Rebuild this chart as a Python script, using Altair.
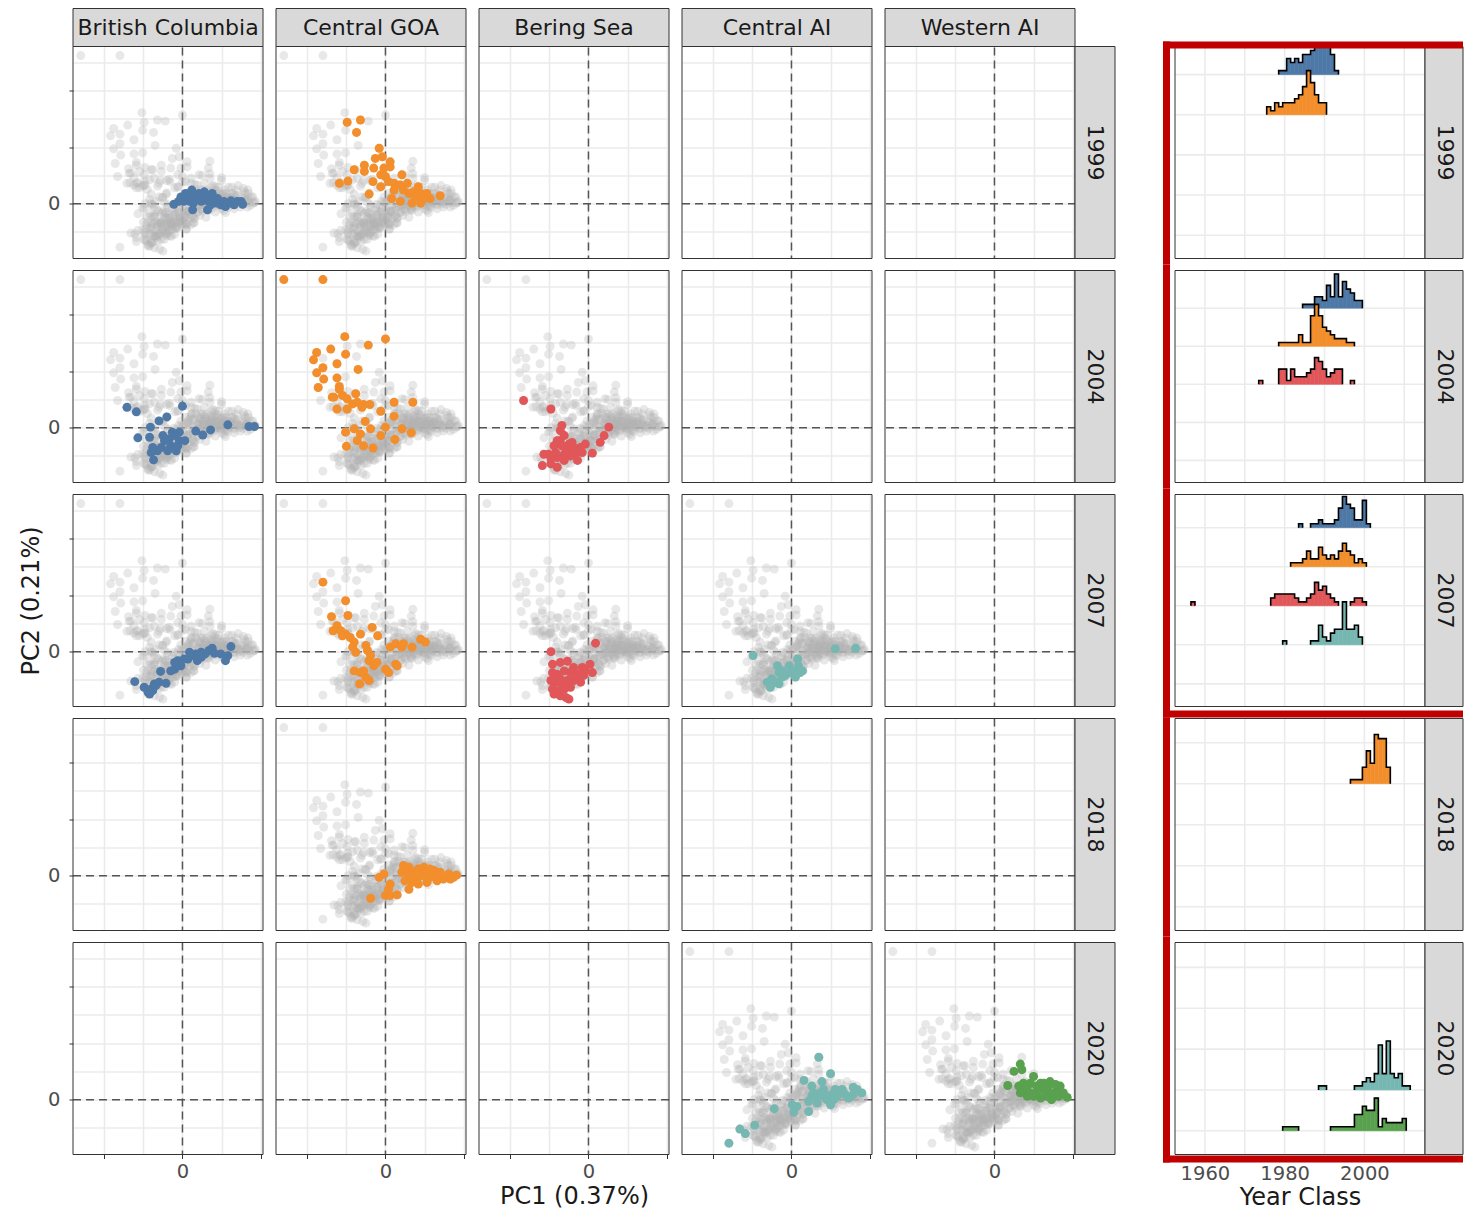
import altair as alt
import pandas as pd

# ---------------------------------------------------------------- categories
REGIONS = ["British Columbia", "Central GOA", "Bering Sea", "Central AI", "Western AI"]
REGION_COLORS = ["#4E79A7", "#F28E2B", "#E15759", "#76B7B2", "#59A14F"]
YEARS = [1999, 2004, 2007, 2018, 2020]

# ------------------------------------------- PCA scores (PC1, PC2) per fish
BC_1999 = [(-0.11, -0.01), (-0.02, 0.12), (0.04, 0.18), (0.12, 0.24), (0.13, -0.11), (0.19, 0.09),
           (0.24, 0.04), (0.28, 0.21), (0.32, -0.11), (0.38, 0.18), (0.41, 0.04), (0.45, 0.09),
           (0.49, -0.02), (0.55, -0.05), (0.60, 0.01), (0.66, -0.02), (0.70, 0.04), (0.77, -0.01),
           (0.09, 0.04), (0.15, 0.15), (0.21, 0.18), (0.34, 0.09), (0.43, 0.01), (0.53, 0.04),
           (0.02, 0.04), (0.36, -0.02), (0.07, 0.12), (0.26, 0.12), (0.30, 0.06), (0.47, 0.04),
           (0.62, 0.05), (0.75, 0.04), (0.14, 0.01), (-0.05, 0.04)]
CGOA_1999 = [(-0.49, 1.44), (-0.32, 1.48), (-0.37, 1.26), (-0.08, 0.98), (-0.13, 0.80), (-0.04, 0.83),
             (0.06, 0.74), (0.06, 0.65), (-0.27, 0.68), (-0.27, 0.57), (-0.40, 0.60), (-0.48, 0.40),
             (-0.59, 0.36), (-0.16, 0.39), (-0.21, 0.17), (-0.06, 0.51), (0.00, 0.48), (0.04, 0.39),
             (0.11, 0.36), (0.21, 0.51), (0.19, 0.33), (0.28, 0.36), (0.30, 0.18), (0.36, 0.21),
             (0.42, 0.30), (0.45, 0.18), (0.53, 0.18), (0.57, 0.09), (0.70, 0.14), (0.08, 0.09),
             (0.19, 0.04), (0.34, 0.01), (0.45, 0.01), (-0.06, 0.30), (0.11, 0.24), (0.23, 0.24),
             (-0.15, 0.63), (-0.02, 0.63), (0.38, 0.12), (0.49, 0.09)]
BC_2004 = [(-0.71, 0.36), (-0.59, 0.28), (0.00, 0.38), (-0.20, 0.19), (-0.30, 0.12), (-0.41, 0.01),
           (-0.57, -0.18), (-0.42, -0.17), (-0.38, -0.35), (-0.40, -0.44), (-0.37, -0.57), (-0.27, -0.35),
           (-0.23, -0.23), (-0.17, -0.20), (-0.15, -0.32), (-0.10, -0.14), (-0.04, -0.08), (-0.04, -0.23),
           (-0.08, -0.41), (0.03, -0.23), (-0.06, -0.32), (-0.19, -0.41), (-0.32, -0.41), (0.17, -0.06),
           (0.26, -0.13), (0.36, -0.04), (0.58, 0.05), (0.85, 0.02), (0.92, 0.02), (-0.13, -0.08),
           (-0.25, -0.14)]
CGOA_2004 = [(-1.30, 2.62), (-0.80, 2.62), (-0.52, 1.61), (0.00, 1.57), (-0.22, 1.46), (-0.70, 1.39),
             (-0.88, 1.33), (-0.92, 1.20), (-0.51, 1.30), (-0.62, 1.13), (-0.35, 1.03), (-0.80, 1.06),
             (-0.88, 0.97), (-0.79, 0.86), (-0.86, 0.71), (-0.62, 0.88), (-0.59, 0.73), (-0.66, 0.54),
             (-0.55, 0.57), (-0.49, 0.51), (-0.38, 0.60), (-0.36, 0.45), (-0.28, 0.41), (-0.20, 0.41),
             (-0.62, 0.33), (-0.49, 0.33), (-0.30, 0.36), (-0.06, 0.29), (0.11, 0.45), (0.35, 0.45),
             (0.11, 0.20), (-0.26, 0.11), (0.00, 0.01), (0.21, -0.02), (0.33, -0.09), (-0.51, -0.08),
             (-0.40, -0.02), (-0.32, -0.11), (-0.06, -0.14), (0.12, -0.21), (-0.50, -0.33), (-0.28, -0.32),
             (-0.16, -0.36), (-0.59, 0.68), (-0.68, 0.54), (-0.42, 0.42), (-0.19, -0.02), (-0.36, -0.23)]
BS_2004 = [(-0.83, 0.48), (-0.48, 0.33), (-0.34, 0.04), (-0.36, -0.05), (-0.31, -0.14), (-0.40, -0.23),
           (-0.44, -0.32), (-0.34, -0.32), (-0.25, -0.29), (-0.19, -0.35), (-0.10, -0.35), (-0.04, -0.29),
           (0.05, -0.45), (-0.14, -0.58), (-0.23, -0.50), (-0.31, -0.47), (-0.40, -0.53), (-0.51, -0.47),
           (-0.57, -0.47), (-0.59, -0.67), (-0.48, -0.64), (-0.40, -0.70), (-0.31, -0.58), (0.15, -0.26),
           (0.20, -0.14), (0.26, 0.01), (-0.08, -0.44), (-0.42, -0.44), (-0.21, -0.26), (-0.36, -0.23),
           (-0.27, -0.41), (-0.48, -0.55), (-0.17, -0.47)]
BC_2007 = [(-0.61, -0.53), (-0.49, -0.63), (-0.44, -0.72), (-0.40, -0.66), (-0.42, -0.75), (-0.36, -0.57),
           (-0.30, -0.54), (-0.28, -0.35), (-0.21, -0.56), (-0.15, -0.34), (-0.10, -0.31), (-0.06, -0.16),
           (-0.02, -0.25), (0.02, -0.13), (0.09, -0.01), (0.13, -0.07), (0.17, -0.04), (0.24, -0.01),
           (0.29, -0.04), (0.34, 0.02), (0.38, 0.06), (0.41, -0.03), (0.49, -0.04), (0.55, -0.16),
           (0.58, -0.07), (0.62, 0.09), (0.07, -0.13), (0.19, -0.16), (-0.38, -0.69), (-0.34, -0.60),
           (-0.10, -0.19), (0.24, -0.10)]
CGOA_2007 = [(-0.80, 1.23), (-0.51, 0.90), (-0.48, 0.64), (-0.69, 0.62), (-0.62, 0.46), (-0.67, 0.37),
             (-0.57, 0.37), (-0.51, 0.31), (-0.45, 0.25), (-0.40, 0.17), (-0.32, 0.31), (-0.38, -0.01),
             (-0.25, 0.11), (-0.23, 0.02), (-0.19, -0.07), (-0.17, 0.43), (-0.10, 0.28), (-0.21, -0.16),
             (-0.15, -0.25), (-0.11, -0.19), (-0.40, -0.34), (-0.32, -0.37), (-0.25, -0.45), (-0.33, -0.57),
             (-0.21, -0.51), (0.00, -0.31), (0.04, -0.37), (0.13, -0.22), (0.15, -0.25), (0.06, 0.08),
             (0.13, 0.14), (0.21, 0.08), (0.23, 0.14), (0.34, 0.08), (0.45, 0.22), (0.51, 0.17),
             (-0.55, 0.28), (-0.42, 0.08), (-0.28, -0.34)]
BS_2007 = [(-0.48, 0.00), (0.09, 0.15), (-0.46, -0.22), (-0.36, -0.19), (-0.27, -0.17), (-0.19, -0.28),
           (-0.08, -0.28), (0.02, -0.22), (0.05, -0.37), (-0.46, -0.37), (-0.40, -0.40), (-0.31, -0.34),
           (-0.23, -0.37), (-0.14, -0.40), (-0.06, -0.42), (-0.48, -0.51), (-0.42, -0.54), (-0.36, -0.48),
           (-0.27, -0.51), (-0.19, -0.51), (-0.10, -0.54), (-0.46, -0.66), (-0.40, -0.69), (-0.31, -0.66),
           (-0.23, -0.63), (-0.44, -0.75), (-0.36, -0.78), (-0.29, -0.81), (-0.25, -0.84), (-0.34, -0.57),
           (-0.14, -0.45), (-0.04, -0.34)]
CAI_2007 = [(-0.49, -0.07), (0.56, 0.05), (0.82, 0.06), (-0.31, -0.54), (-0.27, -0.63), (-0.25, -0.48),
            (-0.18, -0.25), (-0.16, -0.37), (-0.20, -0.54), (-0.12, -0.45), (-0.08, -0.42), (-0.03, -0.25),
            (-0.01, -0.37), (0.03, -0.34), (0.05, -0.45), (0.08, -0.13), (0.09, -0.25), (0.11, -0.37),
            (0.14, -0.34), (-0.16, -0.57), (-0.12, -0.34)]
CGOA_2018 = [(-0.19, -0.40), (-0.08, -0.03), (-0.02, 0.03), (0.00, -0.35), (0.06, -0.35), (0.15, -0.34),
             (0.06, -0.15), (0.04, -0.24), (0.23, 0.18), (0.30, 0.15), (0.32, 0.00), (0.25, -0.09),
             (0.30, -0.24), (0.36, 0.06), (0.42, 0.12), (0.49, 0.15), (0.40, -0.06), (0.47, 0.00),
             (0.53, 0.06), (0.57, -0.03), (0.62, 0.09), (0.66, 0.00), (0.70, 0.06), (0.74, -0.06),
             (0.81, 0.03), (0.87, -0.03), (0.91, 0.01), (0.34, -0.12), (0.53, -0.12), (0.66, -0.09),
             (0.42, -0.15), (0.21, 0.06), (0.28, 0.06), (0.57, 0.12), (0.83, -0.06)]
CAI_2020 = [(-0.80, -0.77), (-0.66, -0.52), (-0.59, -0.60), (-0.47, -0.45), (-0.22, -0.16), (0.01, -0.09),
            (0.03, -0.22), (0.07, -0.12), (0.22, -0.21), (0.22, -0.03), (0.26, 0.24), (0.35, 0.75),
            (0.16, 0.34), (0.28, 0.12), (0.35, 0.06), (0.39, 0.32), (0.41, 0.18), (0.45, 0.00),
            (0.50, 0.46), (0.50, -0.09), (0.52, 0.09), (0.56, 0.18), (0.58, 0.06), (0.62, 0.12),
            (0.69, 0.09), (0.73, 0.03), (0.79, 0.22), (0.79, 0.09), (0.90, 0.12), (0.33, -0.06),
            (0.37, 0.12), (0.54, 0.00), (0.65, 0.18), (0.84, 0.18), (0.26, 0.06), (0.43, 0.09)]
WAI_2020 = [(0.17, 0.25), (0.25, 0.50), (0.33, 0.63), (0.35, 0.53), (0.50, 0.41), (0.33, 0.12),
            (0.37, 0.29), (0.42, 0.24), (0.46, 0.12), (0.50, 0.06), (0.54, 0.24), (0.59, 0.29),
            (0.63, 0.18), (0.67, 0.06), (0.69, 0.24), (0.71, 0.32), (0.76, 0.12), (0.80, 0.18),
            (0.82, 0.06), (0.84, 0.24), (0.93, 0.04), (0.42, 0.06), (0.59, 0.03), (0.73, 0.00),
            (0.46, 0.29), (0.63, 0.29), (0.37, 0.15), (0.54, 0.12), (0.67, 0.15), (0.84, 0.09),
            (0.78, 0.27), (0.31, 0.24), (0.88, 0.12)]

SCORES = {
    ("British Columbia", 1999): BC_1999, ("Central GOA", 1999): CGOA_1999,
    ("British Columbia", 2004): BC_2004, ("Central GOA", 2004): CGOA_2004, ("Bering Sea", 2004): BS_2004,
    ("British Columbia", 2007): BC_2007, ("Central GOA", 2007): CGOA_2007, ("Bering Sea", 2007): BS_2007,
    ("Central AI", 2007): CAI_2007, ("Central GOA", 2018): CGOA_2018,
    ("Central AI", 2020): CAI_2020, ("Western AI", 2020): WAI_2020,
}

# ------------------------- year-class counts (first year class, then counts)
YC_1999_BC = [1, 1, 4, 3, 4, 3, 5, 5, 6, 7, 9, 10, 9, 5, 1]
YC_1999_CGOA = [2, 1, 3, 2, 3, 3, 3, 4, 5, 7, 11, 8, 5, 3, 3]
YC_2004_BC = [1, 1, 1, 3, 3, 2, 6, 3, 9, 3, 7, 5, 4, 2, 2]
YC_2004_CGOA = [1, 1, 1, 1, 1, 3, 1, 1, 8, 11, 8, 5, 4, 3, 2, 2, 2, 1, 1]
YC_2004_BS = [1, 0, 0, 0, 0, 4, 4, 1, 4, 2, 2, 2, 3, 4, 7, 6, 4, 2, 3, 4, 4, 0, 0, 1]
YC_2007_BC = [1, 0, 0, 1, 1, 2, 1, 1, 1, 2, 5, 8, 6, 5, 2, 2, 7, 1]
YC_2007_CGOA = [1, 1, 1, 2, 4, 2, 2, 5, 3, 2, 3, 2, 4, 6, 4, 3, 1, 2, 1]
YC_2007_BS = ([1] + [0] * 19 + [2, 3, 3, 3, 3, 3, 2, 1, 1, 2, 3, 6, 4, 5, 3, 2, 1]
              + [0, 0, 0] + [1, 2, 2, 1])
YC_2007_CAI = [1, 0, 0, 0, 0, 0, 0, 1, 1, 5, 2, 1, 3, 4, 4, 11, 4, 4, 5, 2]
YC_2018_CGOA = [1, 1, 1, 4, 8, 5, 12, 11, 11, 4]
YC_2020_CAI = [1, 1, 0, 0, 0, 0, 0, 0, 0, 1, 1, 2, 3, 2, 4, 11, 4, 12, 4, 3, 4, 1, 1]
YC_2020_WAI = ([1, 1, 1, 1] + [0] * 8
               + [1, 1, 1, 1, 1, 1, 4, 4, 6, 5, 5, 8, 1, 3, 2, 2, 2, 2, 3])

YEAR_CLASS = [
    (1999, "British Columbia", 1979, YC_1999_BC),
    (1999, "Central GOA", 1976, YC_1999_CGOA),
    (2004, "British Columbia", 1985, YC_2004_BC),
    (2004, "Central GOA", 1979, YC_2004_CGOA),
    (2004, "Bering Sea", 1974, YC_2004_BS),
    (2007, "British Columbia", 1984, YC_2007_BC),
    (2007, "Central GOA", 1982, YC_2007_CGOA),
    (2007, "Bering Sea", 1957, YC_2007_BS),
    (2007, "Central AI", 1980, YC_2007_CAI),
    (2018, "Central GOA", 1997, YC_2018_CGOA),
    (2020, "Central AI", 1989, YC_2020_CAI),
    (2020, "Western AI", 1980, YC_2020_WAI),
]

# ------------------------------------------------------------ layout / style
PANEL_W, PANEL_H = 190, 212
GAP_X, GAP_Y = 13, 12
STRIP_H, STRIP_W = 38, 40
HIST_W, HIST_LEFT, HIST_STRIP = 250, 47, 38
GRID = "#EBEBEB"
GRID_W = 1.6
FRAME = "#333333"
STRIP_FILL = "#D9D9D9"
TEXT = "#1A1A1A"
TICK_TEXT = "#4D4D4D"
RED = "#C00000"
FONT = "DejaVu Sans"
STRIP_FONT = 22
TICK_FONT = 19.5
TITLE_FONT = 24

X_DOMAIN = [-1.40, 1.03]
Y_DOMAIN = [-0.97, 2.78]
X_GRID = [-1.0, -0.5, 0.0, 0.5, 1.0]
Y_GRID = [-0.5, 0.0, 0.5, 1.0, 1.5, 2.0, 2.5]
X_PX = PANEL_W / (X_DOMAIN[1] - X_DOMAIN[0])
Y_PX = PANEL_H / (Y_DOMAIN[1] - Y_DOMAIN[0])

# ridge rows: expanded y-limits of each row (regions sit at 4..0), ridge height per fish
RIDGE_TOP = [4.70, 4.99, 4.85, 4.59, 4.61]
RIDGE_BOTTOM = -0.58
RIDGE_SCALE = 0.1
YC_LIMITS = [1952.5, 2015.2]
YC_GRID = [1960, 1970, 1980, 1990, 2000, 2010]
YC_PX = HIST_W / (YC_LIMITS[1] - YC_LIMITS[0])

# highlight boxes round the ridge rows: (top, bottom) of the left bar and any
# horizontal bars, in px measured down from the top edge of each row's panel
RED_LEFT = [(-5, 218), (-6, 218), (-6, 223), (-1, 218), (-6, 220)]
RED_BARS = [[(-5, 2)], [], [(216, 223)], [], [(213, 220)]]

# ------------------------------------------------------------------- tables
PTS = pd.DataFrame(
    [dict(region=r, year=y, pc1=a, pc2=b) for (r, y), pts in SCORES.items() for a, b in pts]
)
ZERO = pd.DataFrame({"zero": [0.0]})
MINOR = "datum.value % 1 != 0"


def x_axis(show, title=None):
    base = dict(values=X_GRID, grid=True, gridColor=GRID, gridWidth=GRID_W, domain=False)
    if not show:
        return alt.Axis(**base, labels=False, ticks=False, title=None, minExtent=0, maxExtent=0)
    return alt.Axis(
        **base, ticks=True, tickSize=4, tickWidth=1,
        tickColor={"condition": {"test": MINOR, "value": "transparent"}, "value": FRAME},
        labelExpr="datum.value == 0 ? '0' : ''", labelFontSize=TICK_FONT, labelColor=TICK_TEXT,
        labelPadding=3.5, labelFlush=False, labelOverlap=False,
        title=title, titleFontSize=TITLE_FONT, titleFontWeight="normal", titleColor=TEXT,
        titlePadding=4,
    )


def y_axis(show, title=" "):
    base = dict(values=Y_GRID, grid=True, gridColor=GRID, gridWidth=GRID_W, domain=False)
    if not show:
        return alt.Axis(**base, labels=False, ticks=False, title=None, minExtent=0, maxExtent=0)
    return alt.Axis(
        **base, ticks=True, tickSize=4, tickWidth=1,
        tickColor={"condition": {"test": MINOR, "value": "transparent"}, "value": FRAME},
        labelExpr="datum.value == 0 ? '0' : ''", labelFontSize=TICK_FONT, labelColor=TICK_TEXT,
        labelPadding=9, labelFlush=False, labelOverlap=False,
        title=title, titleFontSize=TITLE_FONT, titleFontWeight="normal", titleColor=TEXT,
        titlePadding=4, minExtent=26, maxExtent=26,
    )


def panel(ri, ci):
    year, region = YEARS[ri], REGIONS[ci]
    top_row, last_col = ri == 0, ci == len(REGIONS) - 1
    x_hi = X_DOMAIN[1] + (STRIP_W / X_PX if last_col else 0)
    y_hi = Y_DOMAIN[1] + (STRIP_H / Y_PX if top_row else 0)
    xs = alt.Scale(domain=[X_DOMAIN[0], x_hi], nice=False, zero=False)
    ys = alt.Scale(domain=[Y_DOMAIN[0], y_hi], nice=False, zero=False)
    xa = x_axis(ri == len(YEARS) - 1, "PC1 (0.37%)" if ci == 2 else None)
    ya = y_axis(ci == 0, "PC2 (0.21%)" if ri == 2 else " ")

    def X(f):
        return alt.X(f"{f}:Q", scale=xs, axis=xa)

    def Y(f):
        return alt.Y(f"{f}:Q", scale=ys, axis=ya)

    dash = dict(color="#555555", strokeDash=[8, 5], strokeWidth=1.5)
    layers = [
        alt.Chart(ZERO).mark_rule(**dash).encode(x=X("zero")),
        alt.Chart(ZERO).mark_rule(**dash).encode(y=Y("zero")),
    ]
    if (region, year) in SCORES:
        layers.append(
            alt.Chart(PTS).mark_circle(size=80, color="#B3B3B3", opacity=0.3, clip=True)
            .encode(x=X("pc1"), y=Y("pc2"))
        )
        layers.append(
            alt.Chart(PTS)
            .transform_filter(f"datum.region === '{region}' && datum.year === {year}")
            .mark_circle(size=80, color=REGION_COLORS[ci], opacity=1, clip=True)
            .encode(x=X("pc1"), y=Y("pc2"))
        )
    frame = pd.DataFrame([dict(x1=X_DOMAIN[0], x2=X_DOMAIN[1], y1=Y_DOMAIN[0], y2=Y_DOMAIN[1])])
    layers.append(
        alt.Chart(frame).mark_rect(fillOpacity=0, stroke=FRAME, strokeWidth=1)
        .encode(x=X("x1"), x2="x2:Q", y=Y("y1"), y2="y2:Q")
    )
    strips = []
    if top_row:
        strips.append(dict(x1=X_DOMAIN[0], x2=X_DOMAIN[1], y1=Y_DOMAIN[1], y2=y_hi,
                           label=region, angle=0))
    if last_col:
        strips.append(dict(x1=X_DOMAIN[1], x2=x_hi, y1=Y_DOMAIN[0], y2=Y_DOMAIN[1],
                           label=str(year), angle=90))
    if strips:
        sdf = pd.DataFrame(strips)
        sdf["xm"] = (sdf.x1 + sdf.x2) / 2
        sdf["ym"] = (sdf.y1 + sdf.y2) / 2
        layers.append(
            alt.Chart(sdf).mark_rect(fill=STRIP_FILL, stroke=FRAME, strokeWidth=1)
            .encode(x=X("x1"), x2="x2:Q", y=Y("y1"), y2="y2:Q")
        )
        for ang in sorted(set(sdf.angle)):
            layers.append(
                alt.Chart(sdf[sdf.angle == ang]).mark_text(fontSize=STRIP_FONT, color=TEXT, angle=ang)
                .encode(x=X("xm"), y=Y("ym"), text="label:N")
            )
    return alt.layer(*layers).properties(
        width=PANEL_W + (STRIP_W if last_col else 0),
        height=PANEL_H + (STRIP_H if top_row else 0),
    )


# ------------------------------------------------------- year-class ridges
def ridge_row(ri):
    year = YEARS[ri]
    top_row, bottom_row = ri == 0, ri == len(YEARS) - 1
    upx = (RIDGE_TOP[ri] - RIDGE_BOTTOM) / PANEL_H
    y_hi = RIDGE_TOP[ri] + (STRIP_H * upx if top_row else 0)
    x_lo = YC_LIMITS[0] - HIST_LEFT / YC_PX
    x_hi = YC_LIMITS[1] + HIST_STRIP / YC_PX
    xs = alt.Scale(domain=[x_lo, x_hi], nice=False, zero=False)
    ys = alt.Scale(domain=[RIDGE_BOTTOM, y_hi], nice=False, zero=False)
    if bottom_row:
        xa = alt.Axis(values=[1960, 1980, 2000], format="d", ticks=False, domain=False, grid=False,
                      labelFontSize=TICK_FONT, labelColor=TICK_TEXT, labelPadding=9.5,
                      labelFlush=False, title="Year Class", titleFontSize=TITLE_FONT,
                      titleFontWeight="normal", titleColor=TEXT, titlePadding=3,
                      titleX=HIST_LEFT + HIST_W / 2, titleAlign="center")
    else:
        xa = None

    def X(f):
        return alt.X(f"{f}:Q", scale=xs, axis=xa)

    def Y(f):
        return alt.Y(f"{f}:Q", scale=ys, axis=None)

    def v_at(px):
        return RIDGE_TOP[ri] - px * upx

    vgrid = pd.DataFrame([dict(x=float(g), y1=RIDGE_BOTTOM, y2=RIDGE_TOP[ri]) for g in YC_GRID])
    hgrid = pd.DataFrame([dict(x1=YC_LIMITS[0], x2=YC_LIMITS[1], y=float(v))
                          for v in range(len(REGIONS))])
    layers = [
        alt.Chart(vgrid).mark_rule(color=GRID, strokeWidth=GRID_W)
        .encode(x=X("x"), y=Y("y1"), y2="y2:Q"),
        alt.Chart(hgrid).mark_rule(color=GRID, strokeWidth=GRID_W)
        .encode(x=X("x1"), x2="x2:Q", y=Y("y")),
    ]
    for yr, region, first, counts in YEAR_CLASS:
        if yr != year:
            continue
        i = REGIONS.index(region)
        base = float(len(REGIONS) - 1 - i)
        bins = [dict(x1=first + j - 0.5, x2=first + j + 0.5, y1=base,
                     y2=min(base + c * RIDGE_SCALE, RIDGE_TOP[ri]))
                for j, c in enumerate(counts) if c > 0]
        verts, k, run = [], 0, 0
        while k < len(counts):
            if counts[k] == 0:
                k += 1
                continue
            a = k
            while k < len(counts) and counts[k] > 0:
                k += 1
            pts = [(first + a - 0.5, 0)]
            for j in range(a, k):
                pts += [(first + j - 0.5, counts[j]), (first + j + 0.5, counts[j])]
            pts.append((first + k - 0.5, 0))
            for o, (x, c) in enumerate(pts):
                verts.append(dict(run=run, order=o, x=x,
                                  y=min(base + c * RIDGE_SCALE, RIDGE_TOP[ri])))
            run += 1
        col = REGION_COLORS[i]
        layers.append(
            alt.Chart(pd.DataFrame(bins)).mark_rect(fill=col, stroke=col, strokeWidth=0.6)
            .encode(x=X("x1"), x2="x2:Q", y=Y("y1"), y2="y2:Q")
        )
        layers.append(
            alt.Chart(pd.DataFrame(verts)).mark_line(color="black", strokeWidth=1.6)
            .encode(x=X("x"), y=Y("y"), order="order:Q", detail="run:N")
        )
    frame = pd.DataFrame([dict(x1=YC_LIMITS[0], x2=YC_LIMITS[1], y1=RIDGE_BOTTOM,
                               y2=RIDGE_TOP[ri], xs=x_hi, label=str(year),
                               xm=YC_LIMITS[1] + STRIP_W / 2 / YC_PX,
                               ym=(RIDGE_BOTTOM + RIDGE_TOP[ri]) / 2)])
    layers += [
        alt.Chart(frame).mark_rect(fillOpacity=0, stroke=FRAME, strokeWidth=1)
        .encode(x=X("x1"), x2="x2:Q", y=Y("y1"), y2="y2:Q"),
        alt.Chart(frame).mark_rect(fill=STRIP_FILL, stroke=FRAME, strokeWidth=1)
        .encode(x=X("x2"), x2="xs:Q", y=Y("y1"), y2="y2:Q"),
        alt.Chart(frame).mark_text(fontSize=STRIP_FONT, color=TEXT, angle=90)
        .encode(x=X("xm"), y=Y("ym"), text="label:N"),
    ]
    bar_l = YC_LIMITS[0] - 12 / YC_PX
    bar_r = YC_LIMITS[0] - 5 / YC_PX
    red = [dict(x1=bar_l, x2=bar_r, y1=v_at(RED_LEFT[ri][1]), y2=v_at(RED_LEFT[ri][0]))]
    red += [dict(x1=bar_l, x2=x_hi, y1=v_at(b), y2=v_at(t)) for t, b in RED_BARS[ri]]
    layers.append(
        alt.Chart(pd.DataFrame(red)).mark_rect(fill=RED)
        .encode(x=X("x1"), x2="x2:Q", y=Y("y1"), y2="y2:Q")
    )
    return alt.layer(*layers).properties(
        width=HIST_LEFT + HIST_W + HIST_STRIP,
        height=PANEL_H + (STRIP_H if top_row else 0),
    )


cells = []
for r in range(len(YEARS)):
    cells += [panel(r, c) for c in range(len(REGIONS))]
    cells.append(ridge_row(r))

chart = (
    alt.concat(*cells, columns=len(REGIONS) + 1, spacing={"row": GAP_Y, "column": GAP_X},
               bounds="flush", align="each")
    .properties(padding={"left": 18, "top": 6.5, "right": 0, "bottom": 0})
    .configure(font=FONT)
    .configure_view(stroke="transparent")
)

chart.save("out.html", embed_options={"renderer": "svg", "actions": False})
